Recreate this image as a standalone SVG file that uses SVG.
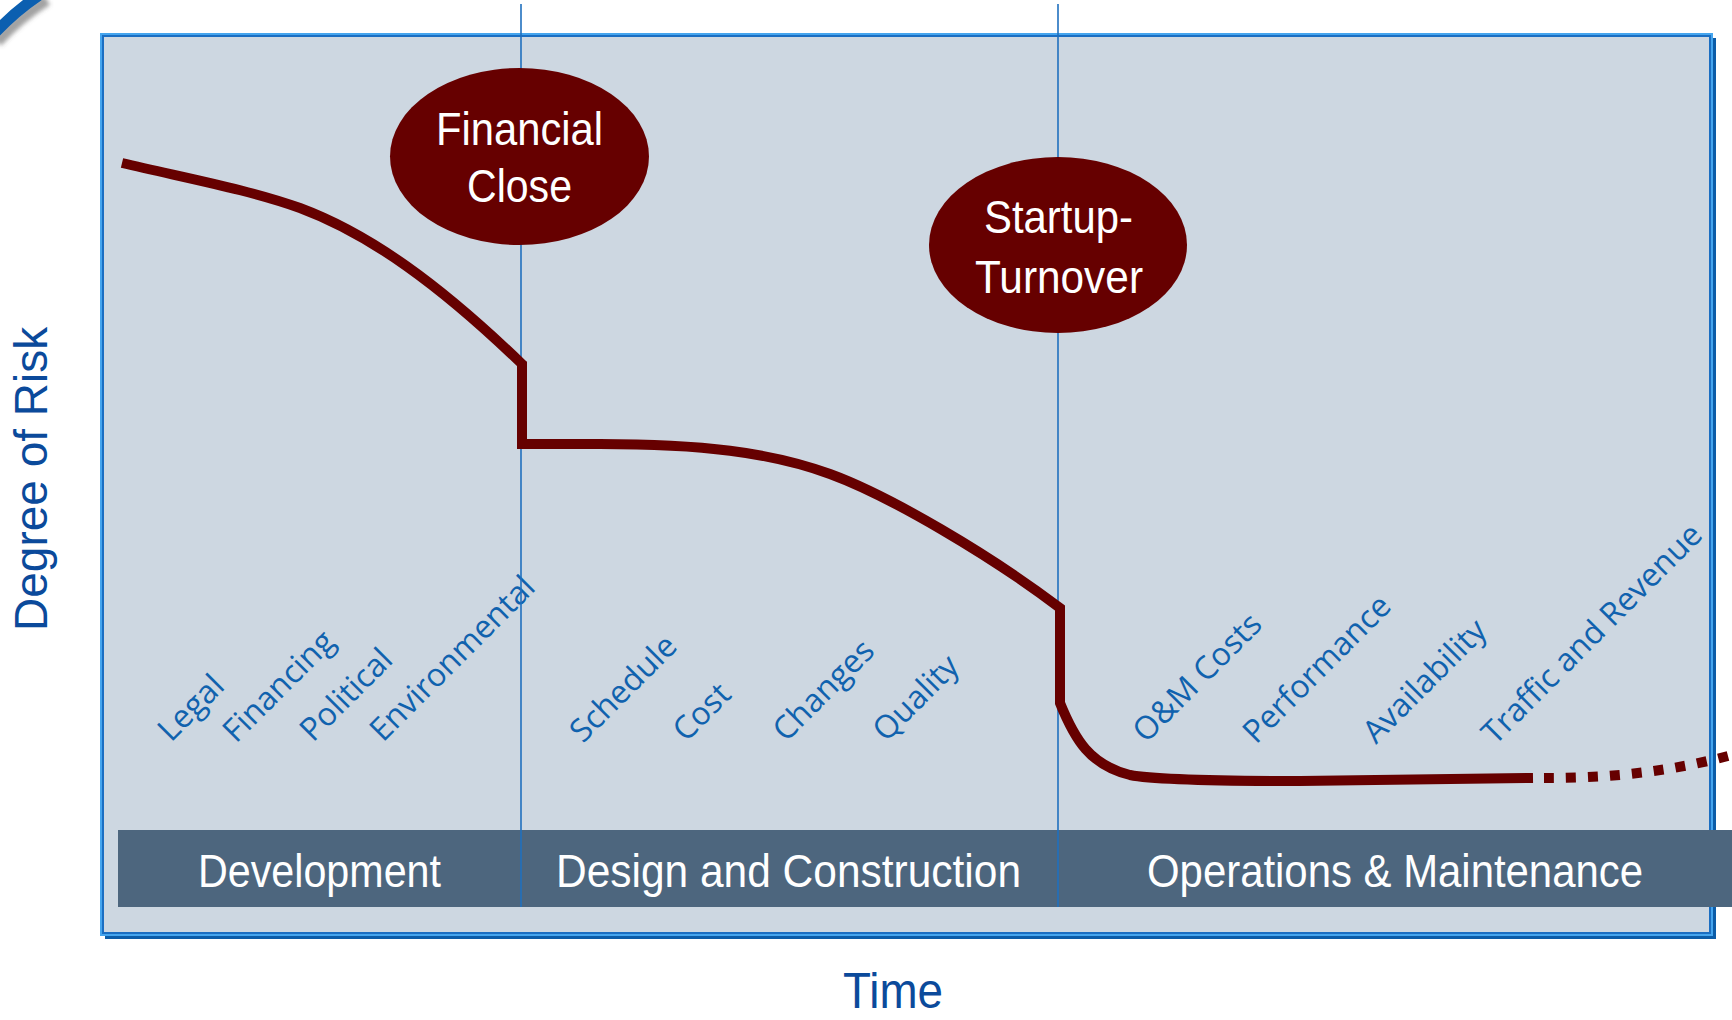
<svg xmlns="http://www.w3.org/2000/svg" width="1732" height="1020" viewBox="0 0 1732 1020">
  <defs>
    <style>
      .risk-item { font-family: "Open Sans", "Liberation Sans", sans-serif; font-size: 32px; fill: #1062AE; }
      .phase-text { font-family: "Liberation Sans", Arial, sans-serif; font-size: 46px; fill: #FFFFFF; }
      .milestone-text { font-family: "Liberation Sans", Arial, sans-serif; font-size: 46px; fill: #FFFFFF; }
      .axis-title { font-family: "Liberation Sans", Arial, sans-serif; fill: #0B4A9B; }
      .divider { stroke: #2070BE; stroke-width: 1.6; fill: none; }
      .risk-curve { stroke: #660000; stroke-width: 10; fill: none; stroke-linejoin: miter; }
      .milestone { fill: #660000; }
    </style>
    <filter id="softShadow" x="-50%" y="-50%" width="200%" height="200%">
      <feGaussianBlur stdDeviation="2"/>
    </filter>
  </defs>

  <rect width="1732" height="1020" fill="#FFFFFF"/>

  <!-- corner ornament -->
  <path d="M-6,38 Q16,14 44,-4" fill="none" stroke="#555" stroke-opacity="0.55" stroke-width="11" filter="url(#softShadow)" transform="translate(3,4)"/>
  <path d="M-6,34 Q16,10 44,-8" fill="none" stroke="#0B5FB0" stroke-width="11"/>

  <!-- chart panel -->
  <g id="panel">
    <rect x="105" y="38" width="1611" height="901" fill="#0B5CA8"/>
    <rect x="101" y="34" width="1611" height="901" fill="#CDD7E1" stroke="#45A5EE" stroke-width="2"/>
    <rect x="103" y="36" width="1607" height="897" fill="none" stroke="#1B6EC2" stroke-width="2"/>
  </g>

  <!-- risk items per phase -->
  <g id="risk-items">
    <text class="risk-item" transform="translate(171,743) rotate(-45)">Legal</text>
    <text class="risk-item" transform="translate(236,744) rotate(-45)">Financing</text>
    <text class="risk-item" transform="translate(313,743) rotate(-45)">Political</text>
    <text class="risk-item" transform="translate(383,743) rotate(-45)">Environmental</text>
    <text class="risk-item" transform="translate(583,744) rotate(-45)">Schedule</text>
    <text class="risk-item" transform="translate(686,743) rotate(-45)">Cost</text>
    <text class="risk-item" transform="translate(786,743) rotate(-45)">Changes</text>
    <text class="risk-item" transform="translate(886,743) rotate(-45)">Quality</text>
    <text class="risk-item" transform="translate(1146,744) rotate(-45)">O&amp;M Costs</text>
    <text class="risk-item" transform="translate(1256,745) rotate(-45)">Performance</text>
    <text class="risk-item" transform="translate(1376,745) rotate(-45)">Availability</text>
    <text class="risk-item" transform="translate(1495,746) rotate(-45)">Traffic and Revenue</text>
  </g>

  <!-- phase bar -->
  <g id="phase-development">
    <rect x="118" y="830" width="403" height="77" fill="#4D667E"/>
    <text class="phase-text" x="198" y="887" textLength="243" lengthAdjust="spacingAndGlyphs">Development</text>
  </g>
  <g id="phase-design-construction">
    <rect x="521" y="830" width="537" height="77" fill="#4D667E"/>
    <text class="phase-text" x="556" y="887" textLength="465" lengthAdjust="spacingAndGlyphs">Design and Construction</text>
  </g>
  <g id="phase-operations">
    <rect x="1058" y="830" width="674" height="77" fill="#4D667E"/>
    <text class="phase-text" x="1147" y="887" textLength="496" lengthAdjust="spacingAndGlyphs">Operations &amp; Maintenance</text>
  </g>

  <!-- connectors: phase dividers and risk profile -->
  <g id="connectors">
    <line class="divider" x1="521" y1="4" x2="521" y2="907"/>
    <line class="divider" x1="1058" y1="4" x2="1058" y2="907"/>
    <path class="risk-curve" d="M122,163 C190,179 250,190 300,208 C370,234 440,285 522,364 L522,444 L600,444 C700,444 770,452 830,474 C890,496 990,555 1060,608 L1060,703 C1075,740 1090,765 1130,775 C1160,781 1250,781 1300,781 L1533,778"/>
    <path class="risk-curve" stroke-dasharray="10 12" d="M1544,778 C1600,778 1660,774 1728,756"/>
  </g>

  <!-- milestones -->
  <g id="milestone-financial-close">
    <ellipse class="milestone" cx="519.5" cy="156.5" rx="129.5" ry="88.5"/>
    <text class="milestone-text" x="436" y="145" textLength="167" lengthAdjust="spacingAndGlyphs">Financial</text>
    <text class="milestone-text" x="467" y="202" textLength="105" lengthAdjust="spacingAndGlyphs">Close</text>
  </g>
  <g id="milestone-startup-turnover">
    <ellipse class="milestone" cx="1058" cy="245" rx="129" ry="88"/>
    <text class="milestone-text" x="984" y="233" textLength="149" lengthAdjust="spacingAndGlyphs">Startup-</text>
    <text class="milestone-text" x="975" y="293" textLength="168" lengthAdjust="spacingAndGlyphs">Turnover</text>
  </g>

  <!-- axis titles -->
  <g id="axis-y">
    <text class="axis-title" font-size="46" transform="translate(47,631) rotate(-90)">Degree of Risk</text>
  </g>
  <g id="axis-x">
    <text class="axis-title" font-size="50" x="843" y="1008" textLength="100" lengthAdjust="spacingAndGlyphs">Time</text>
  </g>
</svg>
